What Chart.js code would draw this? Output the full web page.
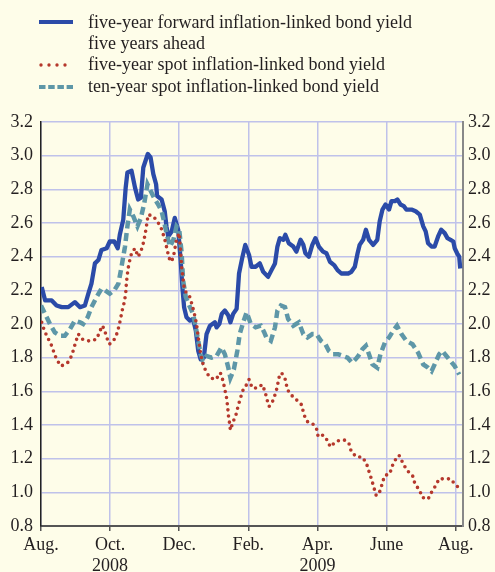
<!DOCTYPE html>
<html>
<head>
<meta charset="utf-8">
<script src="https://cdn.jsdelivr.net/npm/chart.js@4"></script>
<style>
  body { margin:0; background:#fefde9; }
  #wrap { position:relative; width:495px; height:572px; }
  #legend { position:absolute; left:0; top:0; font-family:"Liberation Serif", serif; font-size:18px; color:#231f20; }
  .row { position:absolute; left:88px; white-space:nowrap; }
  .sample { position:absolute; left:38px; }
</style>
</head>
<body>
<div id="wrap">
  <canvas id="chart" width="495" height="572"></canvas>
  <div id="legend">
    <svg class="sample" style="top:16px" width="40" height="12"><line x1="1" y1="6" x2="35" y2="6" stroke="#2b4ba8" stroke-width="4"/></svg>
    <div class="row" style="top:12px">five-year forward inflation-linked bond yield</div>
    <div class="row" style="top:33px">five years ahead</div>
    <svg class="sample" style="top:59px" width="40" height="12"><line x1="3" y1="6" x2="35" y2="6" stroke="#b5382c" stroke-width="3.4" stroke-linecap="round" stroke-dasharray="0 8"/></svg>
    <div class="row" style="top:54px">five-year spot inflation-linked bond yield</div>
    <svg class="sample" style="top:81px" width="40" height="12"><line x1="1" y1="6" x2="35" y2="6" stroke="#5e97a8" stroke-width="4" stroke-dasharray="6.5 2.7"/></svg>
    <div class="row" style="top:76px">ten-year spot inflation-linked bond yield</div>
  </div>
</div>
<script>
// x in months since Aug 2008
const monthTicks = [0, 2, 4, 6, 8, 10, 12];
const monthLabels = ["Aug.", ["Oct.", "2008"], "Dec.", "Feb.", ["Apr.", "2009"], "June", "Aug."];

const fwdX = [0.02,0.12,0.31,0.45,0.60,0.79,0.98,1.13,1.27,1.37,1.46,1.56,1.66,1.75,1.90,1.99,2.12,2.22,2.28,2.38,2.45,2.50,2.62,2.72,2.81,2.89,2.96,3.09,3.17,3.25,3.33,3.36,3.49,3.58,3.63,3.68,3.78,3.87,3.97,4.04,4.09,4.14,4.21,4.31,4.40,4.48,4.55,4.62,4.71,4.79,4.89,5.03,5.08,5.16,5.23,5.32,5.42,5.48,5.56,5.66,5.73,5.83,5.91,6.02,6.09,6.21,6.33,6.43,6.57,6.67,6.77,6.84,6.91,7.01,7.07,7.17,7.30,7.39,7.51,7.59,7.65,7.75,7.85,7.94,8.04,8.16,8.26,8.36,8.48,8.58,8.69,8.79,8.89,8.98,9.08,9.16,9.22,9.32,9.40,9.49,9.61,9.73,9.80,9.88,9.97,10.07,10.14,10.24,10.31,10.40,10.50,10.57,10.72,10.84,10.96,11.06,11.13,11.20,11.30,11.39,11.49,11.58,11.68,11.76,11.85,11.93,11.97,12.04,12.10,12.13];
const fwdY = [2.22,2.14,2.14,2.11,2.10,2.10,2.13,2.10,2.11,2.18,2.24,2.36,2.38,2.44,2.45,2.49,2.49,2.45,2.53,2.62,2.81,2.90,2.91,2.81,2.74,2.75,2.93,3.01,2.99,2.89,2.83,2.76,2.74,2.67,2.58,2.52,2.55,2.63,2.56,2.38,2.22,2.10,2.04,2.02,2.03,1.96,1.84,1.79,1.80,1.94,1.99,2.01,1.98,2.00,2.06,2.08,2.05,2.01,2.06,2.09,2.30,2.40,2.47,2.41,2.34,2.34,2.36,2.31,2.28,2.32,2.36,2.46,2.51,2.50,2.53,2.48,2.46,2.43,2.50,2.47,2.42,2.40,2.47,2.51,2.46,2.43,2.42,2.37,2.35,2.32,2.30,2.30,2.30,2.31,2.34,2.42,2.47,2.50,2.56,2.50,2.47,2.50,2.61,2.68,2.71,2.68,2.73,2.73,2.74,2.71,2.70,2.68,2.68,2.67,2.65,2.58,2.55,2.48,2.46,2.46,2.52,2.56,2.54,2.51,2.50,2.49,2.45,2.42,2.40,2.33];

const spot5X = [0.02,0.10,0.19,0.29,0.36,0.45,0.58,0.77,0.86,0.93,1.00,1.08,1.19,1.35,1.46,1.61,1.69,1.77,1.83,1.90,1.98,2.10,2.19,2.26,2.31,2.36,2.41,2.45,2.47,2.49,2.52,2.57,2.62,2.72,2.81,2.89,2.96,3.01,3.05,3.10,3.25,3.36,3.46,3.54,3.61,3.65,3.71,3.78,3.85,3.92,4.00,4.07,4.14,4.21,4.31,4.39,4.45,4.50,4.55,4.62,4.69,4.77,4.89,5.06,5.19,5.27,5.32,5.37,5.40,5.42,5.45,5.48,5.56,5.64,5.70,5.77,5.85,5.95,6.02,6.11,6.26,6.40,6.48,6.54,6.60,6.70,6.79,6.84,6.88,6.96,7.07,7.13,7.23,7.39,7.54,7.61,7.71,7.85,7.97,8.02,8.16,8.28,8.37,8.52,8.65,8.79,8.91,8.98,9.13,9.30,9.42,9.48,9.56,9.63,9.70,9.82,9.88,9.95,10.09,10.17,10.27,10.36,10.48,10.59,10.75,10.82,10.96,11.03,11.20,11.30,11.42,11.52,11.68,11.85,11.97,12.12];
const spot5Y = [2.01,1.96,1.92,1.88,1.84,1.79,1.75,1.77,1.80,1.84,1.89,1.94,1.91,1.90,1.90,1.91,1.95,1.99,1.97,1.92,1.88,1.90,1.94,1.99,2.04,2.09,2.13,2.18,2.24,2.28,2.33,2.38,2.42,2.45,2.40,2.43,2.48,2.53,2.58,2.65,2.64,2.61,2.58,2.53,2.48,2.44,2.39,2.37,2.42,2.50,2.54,2.34,2.22,2.18,2.16,2.10,2.05,2.00,1.92,1.82,1.76,1.72,1.68,1.67,1.71,1.66,1.61,1.56,1.51,1.46,1.42,1.37,1.42,1.46,1.51,1.56,1.61,1.64,1.67,1.62,1.62,1.64,1.60,1.55,1.51,1.54,1.59,1.63,1.68,1.71,1.67,1.61,1.58,1.55,1.52,1.46,1.42,1.41,1.38,1.33,1.34,1.31,1.27,1.30,1.31,1.31,1.29,1.24,1.21,1.21,1.17,1.13,1.08,1.03,0.98,1.01,1.06,1.10,1.11,1.16,1.20,1.22,1.17,1.13,1.10,1.05,1.01,0.97,0.96,1.00,1.04,1.08,1.08,1.08,1.05,1.02];

const spot10X = [0.00,0.12,0.26,0.40,0.55,0.69,0.84,0.98,1.13,1.22,1.35,1.46,1.61,1.75,1.85,1.99,2.12,2.24,2.33,2.43,2.50,2.57,2.67,2.79,2.89,2.99,3.08,3.15,3.27,3.39,3.49,3.56,3.63,3.73,3.83,3.92,4.00,4.07,4.11,4.19,4.31,4.40,4.48,4.55,4.62,4.69,4.79,4.93,5.08,5.22,5.32,5.42,5.48,5.58,5.68,5.75,5.85,5.95,6.07,6.21,6.36,6.46,6.52,6.65,6.77,6.84,6.94,7.06,7.15,7.30,7.46,7.59,7.71,7.85,7.97,8.10,8.23,8.33,8.45,8.60,8.74,8.87,9.00,9.10,9.18,9.30,9.40,9.49,9.59,9.73,9.82,9.95,10.07,10.19,10.30,10.43,10.57,10.75,10.91,11.06,11.20,11.30,11.39,11.52,11.61,11.73,11.85,11.97,12.10];
const spot10Y = [2.11,2.06,2.00,1.95,1.93,1.93,1.97,2.02,2.01,2.00,2.04,2.10,2.16,2.21,2.20,2.18,2.20,2.24,2.34,2.46,2.58,2.68,2.64,2.58,2.63,2.72,2.83,2.80,2.75,2.71,2.67,2.61,2.54,2.46,2.50,2.58,2.56,2.42,2.26,2.16,2.10,2.06,1.98,1.90,1.82,1.78,1.81,1.80,1.81,1.86,1.82,1.74,1.68,1.73,1.84,1.94,2.01,2.07,2.00,1.98,1.99,1.95,1.92,1.90,1.98,2.08,2.11,2.10,2.03,1.99,2.01,1.94,1.92,1.94,1.94,1.90,1.88,1.84,1.82,1.82,1.81,1.80,1.77,1.79,1.81,1.85,1.87,1.82,1.76,1.74,1.82,1.89,1.92,1.96,1.99,1.94,1.90,1.88,1.83,1.76,1.74,1.72,1.76,1.82,1.84,1.81,1.78,1.75,1.70];

function pts(xs, ys){ return xs.map((x,i)=>({x:x, y:ys[i]})); }

const tickFont = {family:"Liberation Serif", size:18};
const gridCol = "#bfc2ea";

new Chart(document.getElementById("chart"), {
  type:"line",
  data:{
    datasets:[
      {label:"fwd", data:pts(fwdX,fwdY), borderColor:"#2b4ba8", borderWidth:4.3, borderJoinStyle:"round", pointRadius:0, order:3},
      {label:"spot10", data:pts(spot10X,spot10Y), borderColor:"#5e97a8", borderWidth:4.5, borderDash:[8,4.5], pointRadius:0, order:2},
      {label:"spot5", data:pts(spot5X,spot5Y), borderColor:"#b5382c", borderWidth:3.6, borderDash:[0,6.2], borderCapStyle:"round", pointRadius:0, order:1}
    ]
  },
  options:{
    responsive:false,
    animation:false,
    layout:{padding:{top:122}},
    plugins:{legend:{display:false}, tooltip:{enabled:false}},
    scales:{
      x:{
        type:"linear", min:0, max:12.21,
        afterBuildTicks: a => { a.ticks = monthTicks.map(v=>({value:v})); },
        afterFit: s => { s.height = 46; },
        ticks:{font:tickFont, color:"#231f20", padding:3, maxRotation:0, autoSkip:false,
          callback:(v,i)=>monthLabels[i]},
        grid:{color:gridCol, lineWidth:1.5, tickColor:"#555", tickLength:5},
        border:{color:"#555", width:2}
      },
      y:{
        position:"left", min:0.8, max:3.2,
        afterFit: s => { s.width = 41; },
        ticks:{stepSize:0.2, font:tickFont, color:"#231f20", padding:8, callback:v=>v.toFixed(1)},
        grid:{color:gridCol, lineWidth:1.5, drawTicks:false},
        border:{color:"#222", width:1.5}
      },
      y2:{
        position:"right", min:0.8, max:3.2,
        afterFit: s => { s.width = 32; },
        ticks:{stepSize:0.2, font:tickFont, color:"#231f20", padding:5, callback:v=>v.toFixed(1)},
        grid:{drawOnChartArea:false, drawTicks:false},
        border:{color:"#888", width:2}
      }
    }
  }
});
</script>
</body>
</html>
